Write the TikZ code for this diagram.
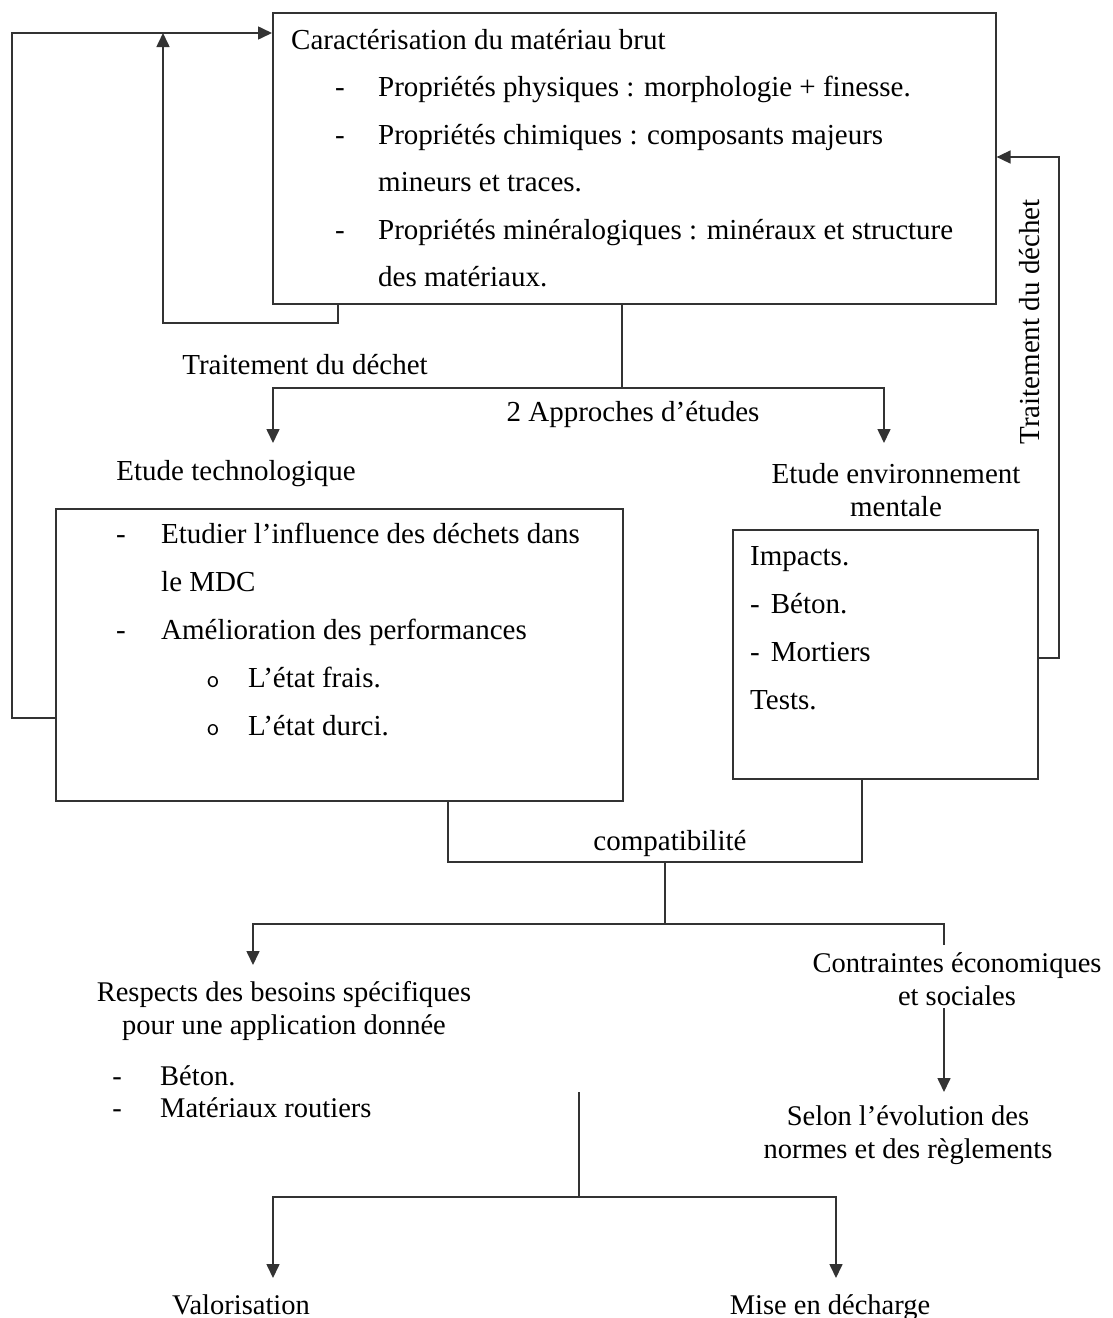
\documentclass[tikz,border=0pt]{standalone}
\usepackage{fontspec}
\setmainfont{Liberation Serif}
\usetikzlibrary{arrows.meta}
\begin{document}
\begin{tikzpicture}[x=1pt,y=-1pt,
  conn/.style={draw=black!80,line width=1.6pt},
  arr/.style={conn,-{Triangle[width=13pt,length=14pt]}},
  box/.style={draw=black!80,line width=1.6pt,anchor=north west,inner sep=0pt},
  big/.style={font=\fontsize{29}{33}\selectfont,inner sep=0pt},
  mid/.style={font=\fontsize{28.5}{33}\selectfont,inner sep=0pt},
  lt/.style={big,anchor=base west},
  bul/.style={big,anchor=base},
  sbul/.style={mid,anchor=base},
  slt/.style={mid,anchor=base west},
  circb/.style={font=\fontfamily{lmss}\fontsize{25}{25}\selectfont,inner sep=0pt,anchor=base}
]
\useasboundingbox (0,0) rectangle (1112,1318);

% boxes
\node[box,minimum width=723pt,minimum height=291pt] (top) at (272,12) {};
\node[box,minimum width=567pt,minimum height=292pt] (techbox) at (55,508) {};
\node[box,minimum width=305pt,minimum height=249pt] (envbox) at (732,529) {};

% top box text
\node[lt] (t0) at (291,49) {Caractérisation du matériau brut};
\node[bul] (d1) at (340,96) {-};
\node[lt] (t1) at (378,96) {Propriétés physiques : morphologie + finesse.};
\node[bul] (d2) at (340,144) {-};
\node[lt] (t2) at (378,144) {Propriétés chimiques : composants majeurs};
\node[lt] (t3) at (378,191) {mineurs et traces.};
\node[bul] (d3) at (340,239) {-};
\node[lt] (t4) at (378,239) {Propriétés minéralogiques : minéraux et structure};
\node[lt] (t5) at (378,286) {des matériaux.};

% technological box text
\node[bul] (e1) at (121,543) {-};
\node[lt] (u1) at (161,543) {Etudier l’influence des déchets dans};
\node[lt] (u2) at (161,591) {le MDC};
\node[bul] (e2) at (121,639) {-};
\node[lt] (u3) at (161,639) {Amélioration des performances};
\node[circb] (o1) at (213,687) {o};
\node[lt] (u4) at (248,687) {L’état frais.};
\node[circb] (o2) at (213,735) {o};
\node[lt] (u5) at (248,735) {L’état durci.};

% environmental box text
\node[lt] (v1t) at (750,565) {Impacts.};
\node[lt] (v2t) at (750,613) {-\hspace{11pt}Béton.};
\node[lt] (v3t) at (750,661) {-\hspace{11pt}Mortiers};
\node[lt] (v4t) at (750,709) {Tests.};

% labels
\node[big,anchor=base] (trt) at (305,374) {Traitement du déchet};
\node[big,anchor=base] (appr) at (633,421) {2 Approches d’études};
\node[big,anchor=base] (etech) at (236,480) {Etude technologique};
\node[big,align=center] (eenv) at (896,490) {Etude environnement\\mentale};
\node[big,anchor=base] (compat) at (670,850) {compatibilité};
\node[big,rotate=90] (trt2) at (1030,322) {Traitement du déchet};
\node[mid,align=center] (contr) at (957,979) {Contraintes économiques\\et sociales};
\node[mid,align=center] (resp) at (284,1011) {Respects des besoins spécifiques\\pour une application donnée};
\node[sbul] (b1) at (117,1085) {-};
\node[slt] (b1t) at (160,1085) {Béton.};
\node[sbul] (b2) at (117,1117) {-};
\node[slt] (b2t) at (160,1117) {Matériaux routiers};
\node[mid,align=center] (selon) at (908,1135) {Selon l’évolution des\\normes et des règlements};
\node[mid,anchor=base] (valo) at (241,1314) {Valorisation};
\node[mid,anchor=base] (mise) at (830,1314) {Mise en décharge};

% feedback loops
\coordinate (fb) at (163,33);
\coordinate (lp) at (338,323);
\draw[arr] (top.south -| lp) -- (lp) -| (fb);
\coordinate (ol) at (12,718);
\draw[arr] (techbox.west |- ol) -- (ol) |- (top.west |- fb);
\coordinate (rl) at (1059,658);
\coordinate (rt) at (1059,157);
\draw[arr] (envbox.east |- rl) -- (rl) |- (top.east |- rt);

% fork 1
\coordinate (f1) at (622,388);
\coordinate (tTech) at (273,443);
\coordinate (tEnv) at (884,443);
\draw[conn] (top.south -| f1) -- (f1);
\draw[arr] (f1) -| (tTech);
\draw[arr] (f1) -| (tEnv);

% compatibility
\coordinate (cL) at (448,862);
\coordinate (cR) at (862,862);
\coordinate (cM) at (665,862);
\draw[conn] (techbox.south -| cL) -- (cL) -- (cR) -- (envbox.south -| cR);
\coordinate (f2) at (665,924);
\draw[conn] (cM) -- (f2);
\coordinate (tResp) at (253,965);
\coordinate (tCon) at (944,945);
\draw[arr] (f2) -| (tResp);
\draw[conn] (f2) -| (tCon);
\coordinate (sC) at (944,1008);
\coordinate (tSel) at (944,1092);
\draw[arr] (sC) -- (tSel);

% bottom fork
\coordinate (vb) at (579,1092);
\coordinate (f3) at (579,1197);
\coordinate (tVal) at (273,1278);
\coordinate (tMise) at (836,1278);
\draw[conn] (vb) -- (f3);
\draw[arr] (f3) -| (tVal);
\draw[arr] (f3) -| (tMise);
\end{tikzpicture}
\end{document}
